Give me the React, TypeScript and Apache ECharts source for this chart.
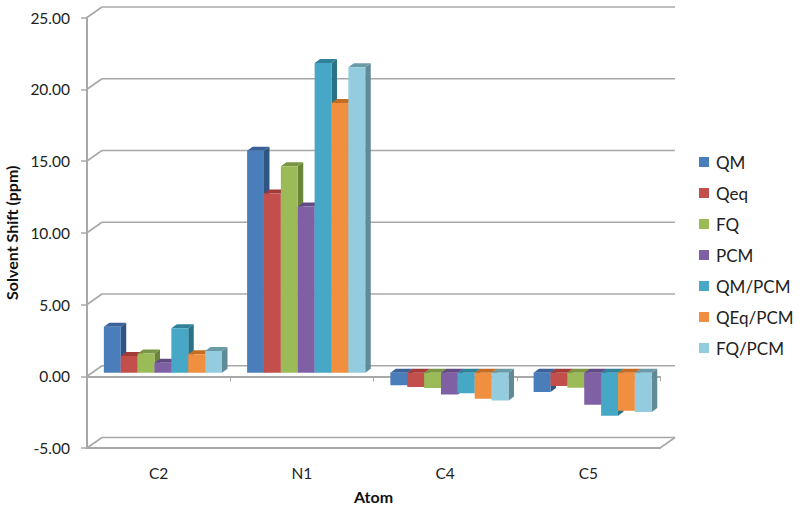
import React, { useEffect, useRef } from "react";
import * as echarts from "echarts";

const categories = ["C2", "N1", "C4", "C5"];
const yTicks = [-5, 0, 5, 10, 15, 20, 25];
const QM = [3.22, 15.48, -0.87, -1.34];
const Qeq = [1.17, 12.5, -0.99, -0.92];
const FQ = [1.34, 14.39, -1.06, -1.03];
const PCM = [0.71, 11.6, -1.5, -2.22];
const QM_PCM = [3.1, 21.6, -1.43, -2.99];
const QEq_PCM = [1.29, 18.8, -1.8, -2.64];
const FQ_PCM = [1.52, 21.3, -1.92, -2.73];

const seriesDefs = [
  { name: "QM", values: QM, color: "#4A7EBB", side: "#2F5583", top: "#3A6298" },
  { name: "Qeq", values: Qeq, color: "#C24F4C", side: "#8C3331", top: "#A23A37" },
  { name: "FQ", values: FQ, color: "#9BBB59", side: "#6B8439", top: "#7A9642" },
  { name: "PCM", values: PCM, color: "#7F60A5", side: "#573F75", top: "#634A85" },
  { name: "QM/PCM", values: QM_PCM, color: "#46A8C6", side: "#2A7288", top: "#30829A" },
  { name: "QEq/PCM", values: QEq_PCM, color: "#F08F40", side: "#B4621F", top: "#C56C24" },
  { name: "FQ/PCM", values: FQ_PCM, color: "#92CCDE", side: "#5F8A96", top: "#6C9BA8" },
];

const FONT = "Lato";
const GRID_COLOR = "#A8A8A8";
const WALL_DX = 15;
const WALL_DY = -10.5;
const BAR_DX = 5.5;
const BAR_DY = -4;
const BASE_DY = -3.4;

export default function App() {
  const ref = useRef<HTMLDivElement>(null);
  useEffect(() => {
    const chart = echarts.init(ref.current!, undefined, { renderer: "svg" });

    const wall = {
      type: "custom",
      name: "wall",
      silent: true,
      z: 1,
      coordinateSystem: "cartesian2d",
      xAxisIndex: 0,
      yAxisIndex: 0,
      encode: { x: 0, y: 1 },
      data: yTicks.map((v) => [0, v]),
      renderItem: (params: any, api: any) => {
        const cs = params.coordSys;
        const y = api.coord([0, api.value(1)])[1];
        const left = cs.x;
        const right = cs.x + cs.width;
        const lineStyle = { stroke: GRID_COLOR, lineWidth: 1.6, fill: "none" };
        const children: any[] = [
          { type: "line", shape: { x1: left, y1: y, x2: left + WALL_DX, y2: y + WALL_DY }, style: lineStyle },
          { type: "line", shape: { x1: left + WALL_DX, y1: y + WALL_DY, x2: right + WALL_DX, y2: y + WALL_DY }, style: lineStyle },
        ];
        if (api.value(1) === yTicks[0]) {
          children.push({ type: "line", shape: { x1: right, y1: y, x2: right + WALL_DX, y2: y + WALL_DY }, style: lineStyle });
        }
        return { type: "group", children };
      },
    };

    const bars = seriesDefs.map((s, idx) => ({
      type: "custom",
      name: s.name,
      z: 2 + idx,
      coordinateSystem: "cartesian2d",
      xAxisIndex: 0,
      yAxisIndex: 0,
      encode: { x: 0, y: 1 },
      itemStyle: { color: s.color },
      data: s.values.map((v, i) => [i, v]),
      renderItem: (_params: any, api: any) => {
        const band = api.size([1, 0])[0];
        const w = band * 0.1178;
        const cx = api.coord([api.value(0), 0])[0];
        const l = cx - 3.5 * w + idx * w + band * 0.03;
        const r = l + w;
        const y0 = api.coord([api.value(0), 0])[1] + BASE_DY;
        const yv = api.coord([api.value(0), api.value(1)])[1] + BASE_DY;
        const topY = Math.min(y0, yv);
        const botY = Math.max(y0, yv);
        return {
          type: "group",
          children: [
            {
              type: "polygon",
              shape: { points: [[r, topY], [r + BAR_DX, topY + BAR_DY], [r + BAR_DX, botY + BAR_DY], [r, botY]] },
              style: { fill: s.side },
            },
            {
              type: "polygon",
              shape: { points: [[l, topY], [l + BAR_DX, topY + BAR_DY], [r + BAR_DX, topY + BAR_DY], [r, topY]] },
              style: { fill: s.top },
            },
            { type: "rect", shape: { x: l, y: topY, width: w, height: botY - topY }, style: { fill: s.color } },
          ],
        };
      },
    }));

    chart.setOption({
      animation: false,
      backgroundColor: "#fff",
      textStyle: { fontFamily: FONT },
      grid: { left: 87, right: 140, top: 17.5, bottom: 60, outerBoundsMode: "none", containLabel: false },
      legend: {
        data: seriesDefs.map((s) => s.name),
        orient: "vertical",
        icon: "rect",
        left: 699,
        top: 152,
        itemWidth: 10,
        itemHeight: 10,
        itemGap: 11,
        padding: 0,
        selectedMode: false,
        textStyle: { fontFamily: FONT, fontSize: 17, color: "#222", lineHeight: 20, padding: [0, 0, 0, 2] },
      },
      xAxis: [
        {
          type: "category",
          data: categories,
          position: "bottom",
          boundaryGap: true,
          name: "Atom",
          nameLocation: "middle",
          nameGap: 40,
          nameTextStyle: { fontFamily: FONT, fontWeight: "bold", fontSize: 16, color: "#111" },
          axisLine: { onZero: false, lineStyle: { color: GRID_COLOR, width: 2 } },
          axisTick: { show: false },
          axisLabel: { fontFamily: FONT, fontSize: 15.5, color: "#222", margin: 17 },
          splitLine: { show: false },
        },
        {
          type: "category",
          data: categories,
          position: "bottom",
          boundaryGap: true,
          axisLine: { onZero: true, lineStyle: { color: GRID_COLOR, width: 2 } },
          axisTick: { show: true, length: 5, alignWithLabel: false, lineStyle: { color: GRID_COLOR, width: 1 } },
          axisLabel: { show: false },
          splitLine: { show: false },
        },
      ],
      yAxis: {
        type: "value",
        min: -5,
        max: 25,
        interval: 5,
        name: "Solvent Shift (ppm)",
        nameLocation: "middle",
        nameRotate: 90,
        nameGap: 64,
        nameTextStyle: { fontFamily: FONT, fontWeight: "bold", fontSize: 16, color: "#111" },
        axisLine: { show: true, onZero: false, lineStyle: { color: GRID_COLOR, width: 2 } },
        axisTick: { show: true, length: 6, lineStyle: { color: GRID_COLOR, width: 1.5 } },
        axisLabel: { fontFamily: FONT, fontSize: 15.5, color: "#222", margin: 17, formatter: (v: number) => v.toFixed(2) },
        splitLine: { show: false },
      },
      series: [wall, ...bars],
    });
    return () => chart.dispose();
  }, []);
  return <div ref={ref} style={{ position: "fixed", left: 0, top: 0, width: 800, height: 508 }} />;
}
